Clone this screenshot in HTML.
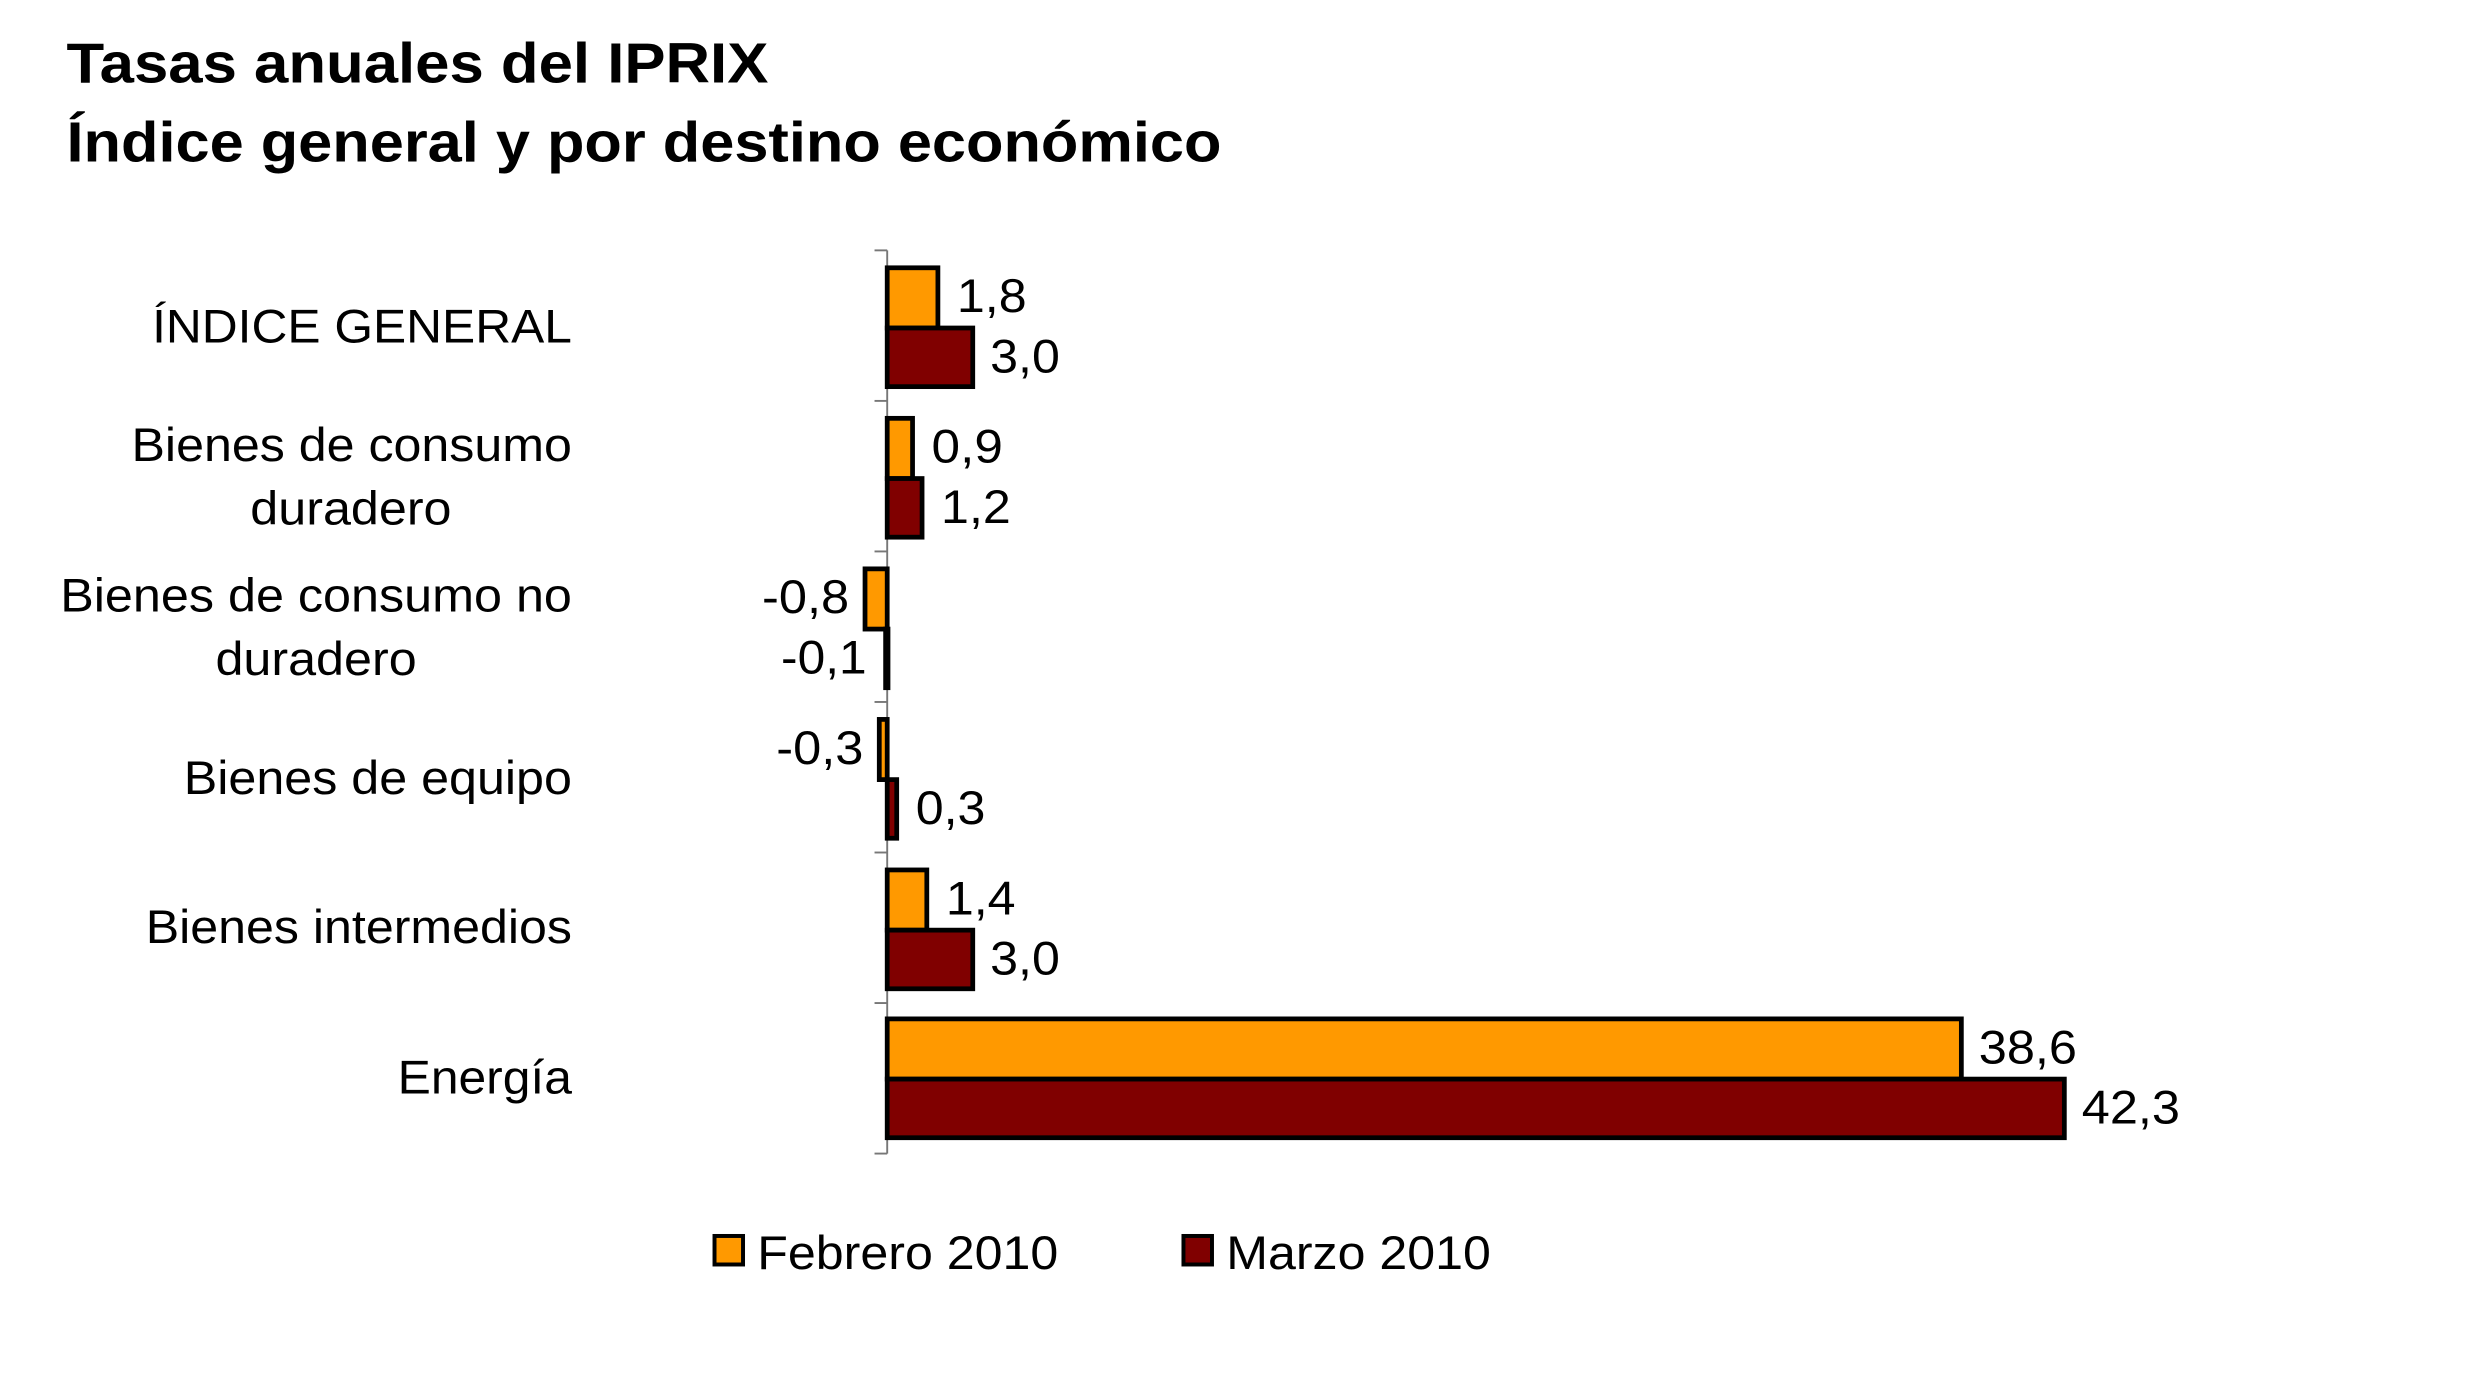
<!DOCTYPE html>
<html><head><meta charset="utf-8"><style>
html,body{margin:0;padding:0;background:#fff;}
svg{display:block;}
text{font-family:"Liberation Sans",Arial,sans-serif;fill:#000;}
</style></head><body>
<svg width="2481" height="1377" viewBox="0 0 1566 869" preserveAspectRatio="none" xmlns="http://www.w3.org/2000/svg">
<text x="42" y="52" font-size="36" font-weight="bold" textLength="443" lengthAdjust="spacingAndGlyphs">Tasas anuales del IPRIX</text>
<text x="42" y="102" font-size="36" font-weight="bold" textLength="729" lengthAdjust="spacingAndGlyphs">Índice general y por destino económico</text>

<g stroke="#777" stroke-width="1.2">
<line x1="560" y1="158" x2="560" y2="728"/>
<line x1="552" y1="158" x2="560" y2="158"/>
<line x1="552" y1="253" x2="560" y2="253"/>
<line x1="552" y1="348" x2="560" y2="348"/>
<line x1="552" y1="443" x2="560" y2="443"/>
<line x1="552" y1="538" x2="560" y2="538"/>
<line x1="552" y1="633" x2="560" y2="633"/>
<line x1="552" y1="728" x2="560" y2="728"/>
</g>

<g stroke="#000" stroke-width="3">
<rect x="560" y="169" width="32" height="38" fill="#FF9900"/>
<rect x="560" y="207" width="54" height="37" fill="#800000"/>
<rect x="560" y="264" width="16" height="38" fill="#FF9900"/>
<rect x="560" y="302" width="22" height="37" fill="#800000"/>
<rect x="546" y="359" width="14" height="38" fill="#FF9900"/>
<rect x="559" y="397" width="1.5" height="37" fill="#800000"/>
<rect x="555" y="454" width="5" height="38" fill="#FF9900"/>
<rect x="560" y="492" width="6" height="37" fill="#800000"/>
<rect x="560" y="549" width="25" height="38" fill="#FF9900"/>
<rect x="560" y="587" width="54" height="37" fill="#800000"/>
<rect x="560" y="643" width="678" height="38" fill="#FF9900"/>
<rect x="560" y="681" width="743" height="37" fill="#800000"/>
</g>

<g font-size="30" lengthAdjust="spacingAndGlyphs">
<text x="604" y="197" textLength="44" lengthAdjust="spacingAndGlyphs">1,8</text>
<text x="625" y="235" textLength="44" lengthAdjust="spacingAndGlyphs">3,0</text>
<text x="588" y="292" textLength="45" lengthAdjust="spacingAndGlyphs">0,9</text>
<text x="594" y="330" textLength="44" lengthAdjust="spacingAndGlyphs">1,2</text>
<text x="481" y="387" textLength="55" lengthAdjust="spacingAndGlyphs">-0,8</text>
<text x="493" y="425" textLength="54" lengthAdjust="spacingAndGlyphs">-0,1</text>
<text x="490" y="482" textLength="55" lengthAdjust="spacingAndGlyphs">-0,3</text>
<text x="578" y="520" textLength="44" lengthAdjust="spacingAndGlyphs">0,3</text>
<text x="597" y="577" textLength="44" lengthAdjust="spacingAndGlyphs">1,4</text>
<text x="625" y="615" textLength="44" lengthAdjust="spacingAndGlyphs">3,0</text>
<text x="1249" y="671" textLength="62" lengthAdjust="spacingAndGlyphs">38,6</text>
<text x="1314" y="709" textLength="62" lengthAdjust="spacingAndGlyphs">42,3</text>
</g>

<g font-size="30">
<text x="96" y="216" textLength="265" lengthAdjust="spacingAndGlyphs">ÍNDICE GENERAL</text>
<text x="83" y="291" textLength="278" lengthAdjust="spacingAndGlyphs">Bienes de consumo</text>
<text x="158" y="331" textLength="127" lengthAdjust="spacingAndGlyphs">duradero</text>
<text x="38" y="386" textLength="323" lengthAdjust="spacingAndGlyphs">Bienes de consumo no</text>
<text x="136" y="426" textLength="127" lengthAdjust="spacingAndGlyphs">duradero</text>
<text x="116" y="501" textLength="245" lengthAdjust="spacingAndGlyphs">Bienes de equipo</text>
<text x="92" y="595" textLength="269" lengthAdjust="spacingAndGlyphs">Bienes intermedios</text>
<text x="251" y="690" textLength="110" lengthAdjust="spacingAndGlyphs">Energía</text>
</g>

<rect x="451" y="780" width="18" height="18" fill="#FF9900" stroke="#000" stroke-width="2.5"/>
<text x="478" y="801" font-size="30" textLength="190" lengthAdjust="spacingAndGlyphs">Febrero 2010</text>
<rect x="747" y="780" width="18" height="18" fill="#800000" stroke="#000" stroke-width="2.5"/>
<text x="774" y="801" font-size="30" textLength="167" lengthAdjust="spacingAndGlyphs">Marzo 2010</text>
</svg>
</body></html>
